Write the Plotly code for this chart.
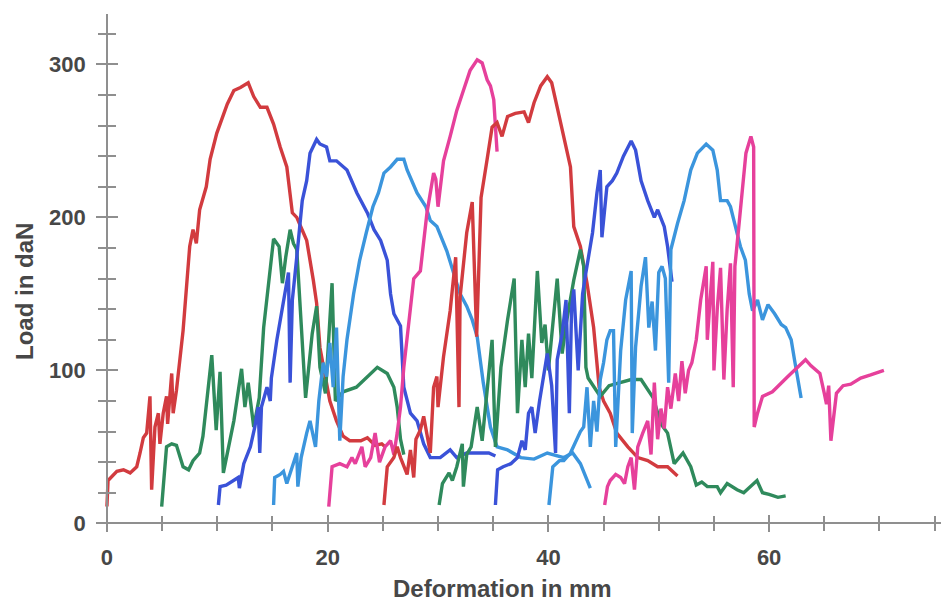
import plotly.graph_objects as go

# ---------------- data (Deformation in mm, Load in daN) ----------------
red_a_x = [0, 0.1, 0.9, 1.5, 2.1, 2.7, 3.0, 3.3, 3.6, 3.9, 4.05, 4.35, 4.66, 4.8, 5.1, 5.4, 5.5, 5.87, 6.0, 6.3,
           6.9, 7.5, 7.8, 8.1, 8.4, 9.0, 9.35, 9.95, 10.9, 11.5, 12.1, 12.8, 13.3, 13.9, 14.5, 15.1, 15.7, 16.3,
           16.8, 17.2, 17.8, 18.1, 18.7, 19.0, 19.3, 19.8, 20.2, 20.8, 21.4, 22.0, 23.0, 23.6, 24.3, 24.9, 25.2]
red_a_y = [11, 28, 34, 35, 33, 37, 46, 56, 59, 83, 22, 63, 72, 52, 72, 83, 65, 98, 72, 87,
           126, 181, 192, 183, 205, 220, 238, 255, 274, 283, 285, 288, 279, 272, 272, 261, 246, 233,
           203, 200, 190, 185, 159, 144, 115, 94, 80, 67, 57, 54, 54, 56, 51, 52, 50]

green_a_x = [4.96, 5.4, 5.87, 6.3, 6.9, 7.4, 7.8, 8.4, 8.7, 9.5, 9.9, 10.25, 10.55, 11.5, 12.2, 12.5, 12.8, 13.3,
             13.8, 14.2, 15.1, 15.6, 15.9, 16.2, 16.6, 16.9, 17.2, 17.5, 18.0, 18.6, 19.0, 19.3, 19.8, 20.4,
             20.7, 21.4, 22.6, 24.5, 25.4, 26.0, 26.3, 26.6, 26.9]
green_a_y = [11, 50, 52, 51, 37, 35, 41, 46, 57, 110, 61, 99, 33, 67, 101, 76, 92, 63,
             82, 128, 186, 181, 157, 174, 192, 183, 179, 142, 82, 124, 142, 102, 85, 157,
             80, 86, 89, 102, 98, 89, 76, 55, 45]

blue_a_x = [10.1, 10.25, 10.8, 11.5, 11.9, 12.0, 12.4, 13.0, 13.4, 13.7, 13.85, 14.0, 14.5, 14.8, 14.9, 15.4,
            16.0, 16.45, 16.6, 16.8, 17.2, 17.7, 18.1, 18.4, 19.0, 19.3, 19.9, 20.2, 20.8, 21.75, 22.65, 23.6,
            24.2, 24.8, 25.4, 25.7, 26.0, 26.6, 26.9, 27.5, 28.1, 28.7, 29.3, 30.2, 31.1, 31.7, 32.6, 33.8,
            34.6, 35.2]
blue_a_y = [12, 24, 25, 28, 30, 23, 39, 50, 63, 76, 46, 76, 89, 80, 95, 120,
            146, 164, 92, 146, 174, 211, 224, 242, 251, 248, 246, 237, 237, 231, 216, 203,
            192, 185, 172, 150, 137, 129, 89, 72, 67, 52, 43, 43, 48, 43, 46, 46,
            46, 44]

lightblue_a_x = [15.1, 15.2, 15.7, 16.0, 16.3, 17.2, 17.3, 17.6, 18.1, 18.4, 18.9, 19.2, 19.6, 19.9, 20.2,
                 20.5, 20.8, 21.1, 21.4, 21.75, 22.35, 22.9, 23.5, 24.1, 24.6, 25.1, 25.7, 26.3, 26.9, 27.2,
                 28.1, 28.9, 29.3, 29.9, 30.8, 31.4, 32.0, 32.6, 33.1, 33.55, 34.1, 34.75, 35.35, 36.3, 37.5,
                 38.7, 39.9, 41.4, 42.2, 42.9, 43.8]
lightblue_a_y = [12, 30, 32, 34, 26, 46, 24, 43, 59, 67, 50, 80, 105, 96, 118,
                 89, 128, 54, 96, 120, 150, 172, 190, 207, 216, 229, 233, 238, 238, 231,
                 216, 207, 198, 194, 178, 164, 150, 142, 133, 122, 92, 63, 50, 48, 43,
                 42, 46, 43, 46, 39, 23]

pink_a_x = [20.1, 20.4, 21.1, 21.75, 22.2, 22.5, 23.1, 23.4, 23.9, 24.3, 24.7, 25.2, 25.7, 26.0, 26.3, 26.6,
            26.9, 27.3, 27.8, 28.4, 29.0, 29.6, 29.8, 30.0, 30.5, 31.1, 31.7, 32.3, 32.9, 33.55, 34.0, 34.45,
            34.75, 35.05, 35.35]
pink_a_y = [11, 37, 39, 37, 43, 39, 50, 37, 43, 59, 40, 50, 54, 45, 59, 76,
            102, 128, 160, 165, 203, 229, 225, 207, 237, 253, 270, 283, 296, 303, 301, 290,
            286, 277, 243]

red_b_x = [25.1, 25.4, 26.0, 26.3, 26.6, 27.2, 27.5, 27.8, 28.0, 28.4, 28.7, 29.0, 29.3, 29.6, 29.9, 30.0,
           30.5, 31.1, 31.6, 31.9, 32.0, 32.6, 33.1, 33.5, 33.9, 34.45, 34.9, 35.35, 35.8, 36.3, 37.0, 37.8,
           38.2, 38.7, 39.3, 39.9, 40.3, 40.8, 41.4, 42.0, 42.3, 42.9, 43.5, 44.1, 44.6, 45.0, 45.6, 46.2,
           47.2, 48.1, 49.0, 49.9, 50.8, 51.7]
red_b_y = [12, 37, 43, 50, 43, 32, 48, 30, 55, 61, 70, 59, 46, 89, 96, 76,
           109, 139, 174, 76, 148, 190, 210, 122, 213, 238, 259, 262, 253, 266, 268, 269,
           262, 275, 286, 292, 288, 272, 253, 233, 194, 181, 157, 128, 89, 80, 72, 59,
           50, 43, 41, 37, 37, 31]

green_b_x = [30.1, 30.4, 31.0, 31.3, 31.7, 32.2, 32.3, 32.6, 33.0, 33.55, 34.0, 34.5, 34.9, 35.2, 35.7, 36.3,
             36.9, 37.2, 37.6, 37.9, 38.2, 38.5, 39.0, 39.4, 39.7, 40.0, 40.8, 41.25, 41.6, 42.3, 42.9, 43.2,
             43.4, 43.6, 44.7, 45.5, 46.55, 47.5, 48.4, 49.0, 49.5, 50.2, 50.8, 51.4, 52.2, 52.9, 53.4, 53.9,
             54.4, 55.3, 55.6, 56.2, 57.1, 57.7, 58.6, 58.9, 59.4, 60.0, 60.8, 61.5]
green_b_y = [12, 26, 33, 28, 37, 52, 24, 45, 50, 76, 54, 90, 120, 50, 102, 133,
             160, 72, 120, 89, 124, 95, 165, 118, 130, 100, 160, 111, 130, 159, 179, 168,
             102, 95, 83, 90, 92, 94, 94, 87, 82, 65, 59, 39, 46, 37, 25, 27,
             24, 24, 20, 26, 22, 20, 26, 28, 20, 19, 17, 18]

blue_b_x = [35.2, 35.4, 35.9, 36.6, 37.2, 37.6, 37.9, 38.2, 38.5, 38.8, 39.2, 39.6, 39.9, 40.3, 40.65, 40.8,
            41.25, 41.6, 41.9, 42.1, 42.3, 42.7, 43.1, 43.4, 44.0, 44.4, 44.7, 44.85, 45.3, 45.8, 46.2, 46.8,
            47.5, 47.9, 48.4, 49.0, 49.6, 49.9, 50.5, 50.8, 51.2]
blue_b_y = [12, 35, 37, 39, 43, 54, 48, 72, 76, 59, 80, 96, 111, 90, 46, 107,
            124, 146, 72, 140, 153, 100, 150, 164, 190, 216, 231, 187, 220, 224, 229, 240,
            250, 244, 224, 211, 200, 205, 194, 181, 158]

lightblue_b_x = [40.05, 40.4, 41.0, 41.4, 42.0, 42.6, 42.9, 43.2, 43.5, 43.8, 44.1, 44.4, 44.7, 45.0, 45.3,
                 45.6, 45.9, 46.1, 46.55, 47.0, 47.5, 47.6, 47.9, 48.4, 48.8, 49.1, 49.4, 49.7, 50.0, 50.3,
                 50.6, 50.9, 51.1, 51.7, 52.3, 52.9, 53.5, 54.3, 54.9, 55.3, 55.6, 56.2, 56.5, 56.95, 57.4,
                 57.85, 58.2, 58.5, 58.95, 59.4, 59.9, 60.5, 61.1, 61.5, 62.0, 62.3, 62.9]
lightblue_b_y = [12, 37, 41, 41, 46, 55, 60, 63, 89, 50, 80, 60, 94, 105, 120,
                 126, 126, 50, 113, 146, 165, 59, 115, 155, 174, 128, 145, 113, 164, 168,
                 160, 92, 179, 196, 211, 231, 242, 248, 244, 231, 211, 211, 207, 194, 181,
                 172, 150, 139, 146, 133, 143, 137, 130, 128, 120, 107, 82]

pink_b_x = [45.1, 45.35, 45.6, 46.1, 46.55, 46.9, 47.2, 47.5, 47.8, 48.1, 48.55, 49.0, 49.3, 49.6, 49.9, 50.2,
            50.5, 50.8, 51.1, 51.5, 51.8, 52.1, 52.4, 52.7, 53.0, 53.4, 53.8, 54.3, 54.4, 54.9, 55.0, 55.3,
            55.6, 55.9, 56.2, 56.5, 56.75, 56.9, 57.2, 57.6, 57.9, 58.35, 58.6, 58.65, 58.95, 59.4, 60.3,
            61.7, 62.6, 63.3, 63.8, 64.6, 65.0, 65.2, 65.4, 65.6, 66.1, 66.7, 67.4, 68.3, 69.2, 70.4]
pink_b_y = [12, 24, 28, 32, 30, 26, 37, 43, 22, 50, 59, 67, 45, 92, 55, 75,
            62, 89, 75, 98, 80, 106, 85, 100, 105, 120, 146, 168, 120, 171, 100, 140,
            167, 94, 140, 170, 89, 168, 190, 220, 242, 253, 246, 63, 72, 83, 86,
            96, 102, 107, 103, 98, 85, 78, 90, 54, 85, 90, 91, 95, 97, 100]

x_tick_values = [0, 20, 40, 60]
y_tick_values = [0, 100, 200, 300]
x_title = "Deformation in mm"
y_title = "Load in daN"

# ---------------- styling ----------------
colors = {
    "red": "#d23b3f",
    "green": "#2f8a5c",
    "blue": "#3a52d8",
    "lightblue": "#3b95dd",
    "pink": "#e6409b",
}

series = [
    (red_a_x, red_a_y, "red"),
    (green_a_x, green_a_y, "green"),
    (blue_a_x, blue_a_y, "blue"),
    (lightblue_a_x, lightblue_a_y, "lightblue"),
    (pink_a_x, pink_a_y, "pink"),
    (red_b_x, red_b_y, "red"),
    (green_b_x, green_b_y, "green"),
    (blue_b_x, blue_b_y, "blue"),
    (lightblue_b_x, lightblue_b_y, "lightblue"),
    (pink_b_x, pink_b_y, "pink"),
]

fig = go.Figure()
for xs, ys, c in series:
    fig.add_trace(go.Scatter(x=xs, y=ys, mode="lines",
                             line=dict(color=colors[c], width=3.4),
                             showlegend=False, hoverinfo="skip"))

# empty trace so that the overlay axes (inner half of the crossing ticks) get drawn
fig.add_trace(go.Scatter(x=[None], y=[None], xaxis="x2", yaxis="y2", mode="lines",
                         showlegend=False, hoverinfo="skip"))

axis_color = "#8f8f8f"
txt_color = "#474747"
tick_font = dict(family="Liberation Sans, Arial, sans-serif", size=22, color=txt_color, weight="bold")
title_font = dict(family="Liberation Sans, Arial, sans-serif", size=24, color=txt_color, weight="bold")

xr = [-0.9, 76.3]
yr = [-5, 333]
x_axis_pos = (0 - yr[0]) / (yr[1] - yr[0])   # paper y where load = 0
y_axis_pos = (0 - xr[0]) / (xr[1] - xr[0])   # paper x where deformation = 0

common = dict(showgrid=False, zeroline=False, tickwidth=1.5, tickcolor=axis_color, automargin=False)
x_minor = list(range(0, 80, 5))
y_minor = list(range(0, 340, 20))

# the page body adds an 8px margin, so the figure is 8px smaller and margins are shifted
fig.update_layout(
    width=941, height=593,
    margin=dict(l=89, r=0, t=6, b=70, autoexpand=False),
    paper_bgcolor="white", plot_bgcolor="white",
    showlegend=False,
    xaxis=dict(range=xr, anchor="free", position=x_axis_pos,
               showline=True, linecolor=axis_color, linewidth=1.5,
               ticks="outside", ticklen=8, tickvals=x_tick_values,
               tickfont=tick_font, ticklabelstandoff=6,
               minor=dict(tickvals=x_minor, ticks="outside", ticklen=7,
                          tickwidth=1.5, tickcolor=axis_color, showgrid=False),
               **common),
    xaxis2=dict(range=xr, overlaying="x", anchor="free", position=x_axis_pos,
                showline=False, ticks="inside", ticklen=8, tickvals=x_tick_values,
                showticklabels=False,
                minor=dict(tickvals=x_minor, ticks="inside", ticklen=7,
                           tickwidth=1.5, tickcolor=axis_color, showgrid=False),
                **common),
    yaxis=dict(range=yr, anchor="free", position=y_axis_pos,
               showline=True, linecolor=axis_color, linewidth=1.5,
               ticks="outside", ticklen=10, tickvals=y_tick_values,
               tickfont=tick_font, ticklabelstandoff=6,
               minor=dict(tickvals=y_minor, ticks="outside", ticklen=8,
                          tickwidth=1.5, tickcolor=axis_color, showgrid=False),
               **common),
    yaxis2=dict(range=yr, overlaying="y", anchor="free", position=y_axis_pos,
                showline=False, ticks="inside", ticklen=10, tickvals=y_tick_values,
                showticklabels=False,
                minor=dict(tickvals=y_minor, ticks="inside", ticklen=8,
                           tickwidth=1.5, tickcolor=axis_color, showgrid=False),
                **common),
    annotations=[
        dict(text=x_title, xref="paper", yref="paper", x=0.4765, y=-0.112,
             xanchor="center", yanchor="middle", showarrow=False, font=title_font),
        dict(text=y_title, xref="paper", yref="paper", x=-0.0845, y=0.4623,
             xanchor="center", yanchor="middle", showarrow=False, font=title_font,
             textangle=-90),
    ],
)

fig.write_html("out.html")
